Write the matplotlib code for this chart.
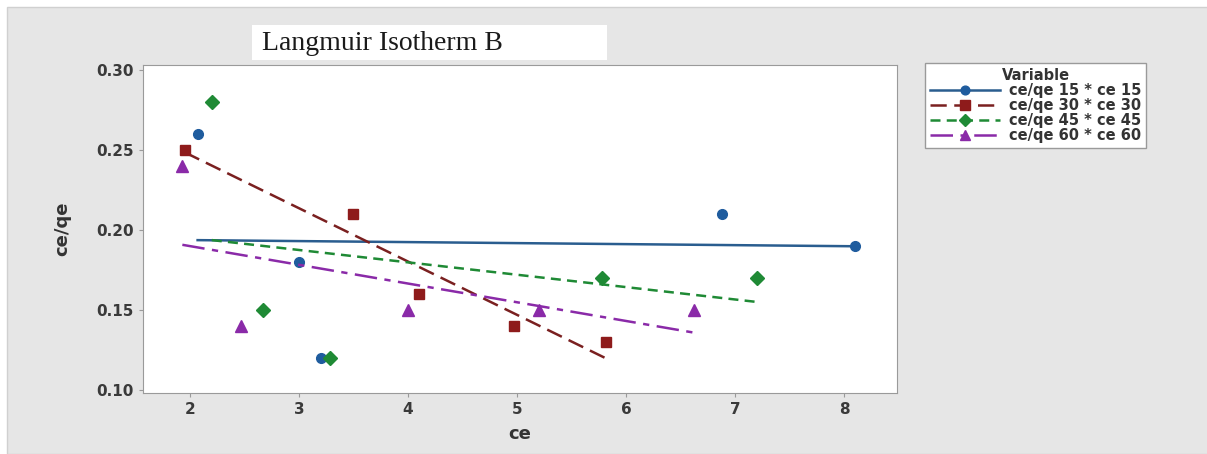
import matplotlib
matplotlib.use("Agg")
import matplotlib.pyplot as plt
from matplotlib.patches import Rectangle
import numpy as np

# data (ce vs ce/qe)
ce15 = [2.07, 3.0, 3.2, 6.88, 8.1]
cq15 = [0.26, 0.18, 0.12, 0.21, 0.19]
ce30 = [1.95, 3.5, 4.1, 4.97, 5.82]
cq30 = [0.25, 0.21, 0.16, 0.14, 0.13]
ce45 = [2.2, 2.67, 3.28, 5.78, 7.2]
cq45 = [0.28, 0.15, 0.12, 0.17, 0.17]
ce60 = [1.93, 2.47, 4.0, 5.2, 6.62]
cq60 = [0.24, 0.14, 0.15, 0.15, 0.15]
labels = ["ce/qe 15 * ce 15", "ce/qe 30 * ce 30", "ce/qe 45 * ce 45", "ce/qe 60 * ce 60"]

series = [(ce15, cq15), (ce30, cq30), (ce45, cq45), (ce60, cq60)]
colors = ["#1f5c9e", "#8e1b1b", "#1f8a35", "#8a2aa8"]
linecolors = ["#2a5d8f", "#7a2020", "#1f8a35", "#8a2aa8"]
markers = ["o", "s", "D", "^"]
msizes = [7, 7.5, 7, 8]
dashes = [None, (6.5, 3), (4, 2.5), (9, 3, 2.5, 3)]

fig = plt.figure(figsize=(12.07, 4.54), dpi=100, facecolor="white")
# grey page behind everything, white title strip on top of it
fig.patches.append(Rectangle((7 / 1207, 0), 1, 447 / 454, transform=fig.transFigure,
                             facecolor="#e6e6e6", edgecolor="#d0d0d0", lw=1, zorder=-10))
fig.patches.append(Rectangle((252 / 1207, 1 - 60 / 454), 355 / 1207, 35 / 454,
                             transform=fig.transFigure, facecolor="white",
                             edgecolor="none", zorder=-5))

ax = fig.add_axes([143 / 1207, 1 - 393 / 454, 754 / 1207, 328 / 454])
ax.set_facecolor("white")

handles = []
for (x, y), c, lc, m, ms, d, lab in zip(series, colors, linecolors, markers, msizes, dashes, labels):
    x = np.array(x)
    y = np.array(y)
    k, b = np.polyfit(x, y, 1)   # fitted line drawn over the observed x range
    xs = np.array([x.min(), x.max()])
    ln, = ax.plot(xs, k * xs + b, color=lc, lw=1.8)
    if d is not None:
        ln.set_dashes(d)
    ax.plot(x, y, ls="none", marker=m, color=c, ms=ms, mec=c)
    h, = ax.plot([], [], color=lc, lw=1.8, marker=m, ms=ms * 0.9, mfc=c, mec=c)
    if d is not None:
        h.set_dashes(d)
    handles.append(h)

ax.set_xlim(1.569, 8.486)
ax.set_ylim(0.0981, 0.3031)
ax.set_xticks([2, 3, 4, 5, 6, 7, 8])
ax.set_yticks([0.10, 0.15, 0.20, 0.25, 0.30])
ax.set_yticklabels(["0.10", "0.15", "0.20", "0.25", "0.30"])
for s in ax.spines.values():
    s.set_color("#9a9a9a")
ax.tick_params(colors="#9a9a9a", length=3, width=0.8, labelcolor="#3a3a3a", labelsize=11)
for t in ax.get_xticklabels() + ax.get_yticklabels():
    t.set_fontweight("bold")
ax.set_xlabel("ce", fontsize=13, fontweight="bold", color="#333333", labelpad=6)
ax.set_ylabel("ce/qe", fontsize=13, fontweight="bold", color="#333333", labelpad=18)

fig.text(262 / 1207, 1 - 43 / 454, "Langmuir Isotherm B", fontsize=20, family="Liberation Serif",
         color="#1a1a1a", va="center", ha="left")

leg = fig.legend(handles, labels, title="Variable", loc="upper left",
                 bbox_to_anchor=(925 / 1207, 1 - 63 / 454), fontsize=10.5, title_fontsize=10.5,
                 frameon=True, fancybox=False, handlelength=4.8, borderpad=0.35,
                 labelspacing=0.0, handletextpad=0.6, borderaxespad=0)
leg.get_frame().set_edgecolor("#9a9a9a")
leg.get_frame().set_facecolor("white")
leg.get_frame().set_alpha(1)
leg.get_title().set_fontweight("bold")
leg.get_title().set_color("#333333")
for t in leg.get_texts():
    t.set_fontweight("bold")
    t.set_color("#333333")

fig.savefig("out.png", dpi=100, facecolor=fig.get_facecolor())
